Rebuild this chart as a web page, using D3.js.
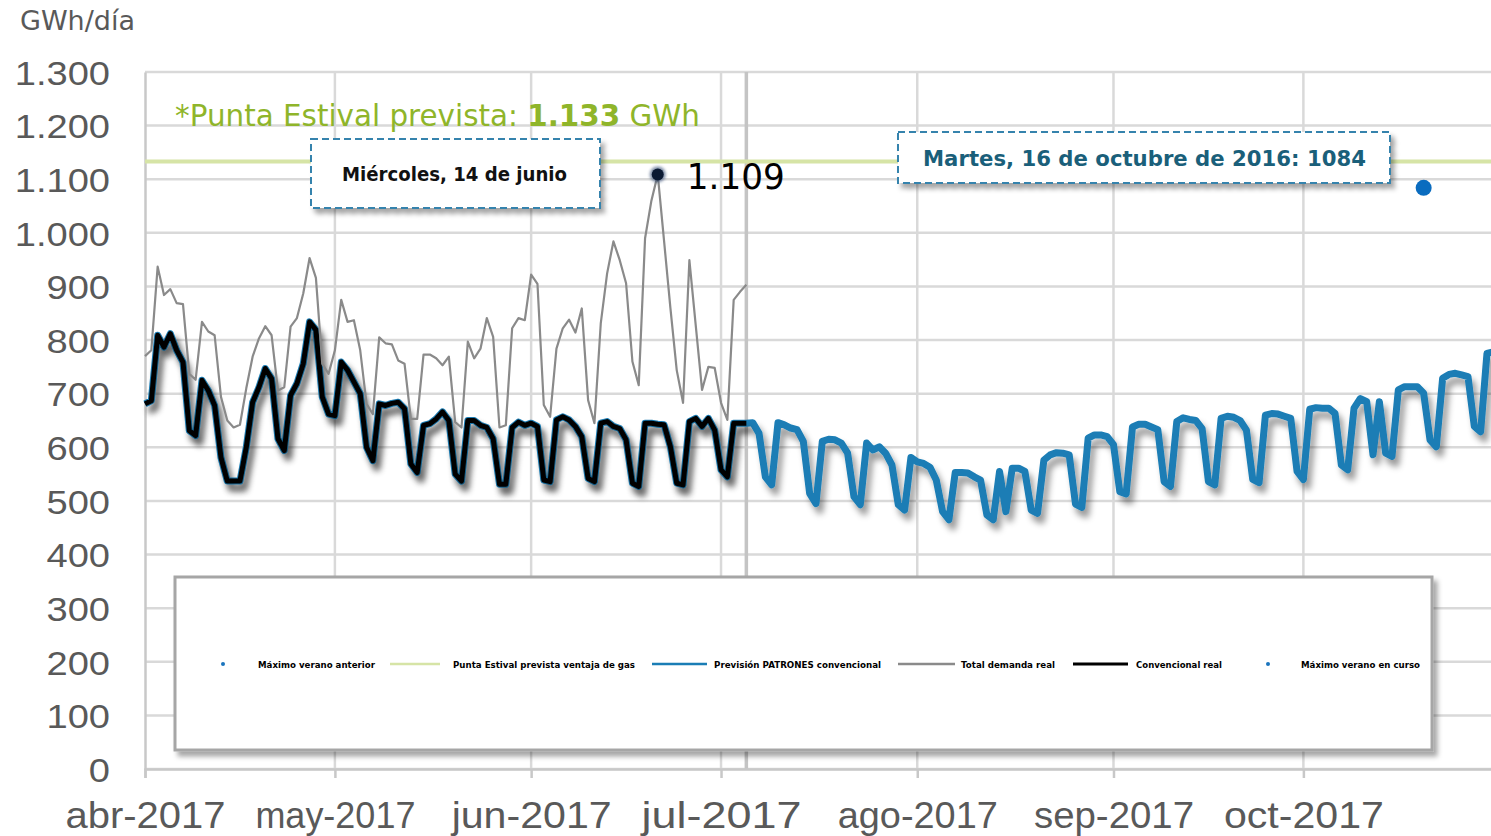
<!DOCTYPE html>
<html><head><meta charset="utf-8">
<script src="https://cdn.jsdelivr.net/npm/d3@7"></script>
<style>
body{margin:0;background:#fff;overflow:hidden}
svg{display:block;font-family:"DejaVu Sans",Verdana,sans-serif}
</style>
</head><body>
<svg id="c" width="1491" height="836"></svg>
<script>
// ---------- DATA ----------
const startDate = "2017-04-01";
const monthStarts = ["2017-04-01","2017-05-01","2017-06-01","2017-07-01","2017-08-01","2017-09-01","2017-10-01"];
const monthLabels = ["abr-2017","may-2017","jun-2017","jul-2017","ago-2017","sep-2017","oct-2017"];
const yTicks = [0,100,200,300,400,500,600,700,800,900,1000,1100,1200,1300];
const yTickLabels = ["0","100","200","300","400","500","600","700","800","900","1.000","1.100","1.200","1.300"];

// Total demanda real (GWh/día), daily from 1-abr-2017
const totalDemand = [
 770,781,937,884,895,869,867,
 737,726,834,816,809,694,650,
 637,642,710,769,803,826,809,
 706,712,825,841,887,953,916,
 756,737,781,875,834,837,781,
 681,662,805,794,792,762,756,
 653,653,773,773,766,753,769,
 647,637,797,766,784,841,806,
 637,641,822,841,837,922,905,
 679,657,784,822,838,814,859,
 688,645,831,924,984,949,906,
 760,716,990,1060,1109,985,860,
 744,683,949,828,707,750,748,
 683,651,875,890,903
];
// Convencional real
const conventionalReal = [
 681,687,809,787,812,781,759,
 631,622,725,706,678,581,537,
 537,537,600,684,712,747,728,
 616,594,697,719,756,834,819,
 694,662,659,759,744,722,700,
 600,575,681,678,682,684,672,
 569,553,641,644,653,666,650,
 550,537,650,650,641,637,616,
 531,531,637,647,641,645,639,
 539,536,651,657,651,639,620,
 542,536,645,648,639,635,614,
 533,527,645,645,643,642,601,
 533,530,648,654,639,654,632,
 558,545,645,645,645
];
// Previsión PATRONES convencional
const forecast = [
 681,687,809,787,812,781,759,
 631,622,725,706,678,581,537,
 537,537,600,684,712,747,728,
 616,594,697,719,756,834,819,
 694,662,659,759,744,722,700,
 600,575,681,678,682,684,672,
 569,553,641,644,653,666,650,
 550,537,650,650,641,637,616,
 531,531,637,647,641,645,639,
 539,536,651,657,651,639,620,
 542,536,645,648,639,635,614,
 533,527,645,645,643,642,601,
 533,530,648,654,639,654,632,
 558,545,645,645,645,646,626,
 545,530,646,642,636,633,611,
 514,495,611,615,614,608,589,
 508,493,608,595,601,589,567,
 493,483,581,573,570,563,539,
 480,465,553,553,552,545,539,
 474,465,555,480,561,561,555,
 483,477,576,586,590,589,586,
 494,488,617,623,623,620,605,
 517,513,638,643,643,638,633,
 536,527,648,655,652,650,635,
 536,530,654,658,656,650,632,
 540,534,660,663,662,658,654,
 555,540,671,674,673,673,663,
 567,558,673,691,685,586,685,
 589,583,707,713,713,713,701,
 614,601,729,736,738,735,732,
 639,629,775,778
];
const puntaPrevista = 1133;
const currentMax = {date:"2017-06-21", value:1109, label:"1.109"};
const previousMax = {date:"2017-10-20", value:1084};
const titleParts = ["*Punta Estival prevista: ", "1.133", " GWh"];
const noteCurrent = "Miércoles, 14 de junio";
const notePrevious = "Martes, 16 de octubre de 2016: 1084";
const todayDate = "2017-07-05";
const legendItems = [
 {kind:"dot",  label:"Máximo verano anterior", color:"#1a74bd"},
 {kind:"line", label:"Punta Estival prevista ventaja de gas", color:"#d6e4a6"},
 {kind:"line", label:"Previsión PATRONES convencional", color:"#1a7db5"},
 {kind:"line", label:"Total demanda real", color:"#8a8a8a"},
 {kind:"line", label:"Convencional real", color:"#000000"},
 {kind:"dot",  label:"Máximo verano en curso", color:"#1a74bd"}
];
// legend layout (pixels)
const legendLayout = [
 {sx:223, tx:258, tw:117},
 {sx1:390, sx2:440, tx:453, tw:182},
 {sx1:652, sx2:707, tx:714, tw:167},
 {sx1:898, sx2:955, tx:961, tw:94},
 {sx1:1073, sx2:1128, tx:1136, tw:86},
 {sx:1268, tx:1301, tw:119}
];

// ---------- CHART ----------
const parse = d3.utcParse("%Y-%m-%d");
const t0 = parse(startDate);
const dayDate = i => d3.utcDay.offset(t0, i);
const svg = d3.select("#c");

const x = d3.scaleUtc().domain([t0, parse("2017-11-01")]).range([145, 145 + 214*6.33]);
const y = d3.scaleLinear().domain([0, 1300]).range([769, 72]);

const defs = svg.append("defs");
const f = defs.append("filter").attr("id","sh").attr("x","-5%").attr("y","-10%").attr("width","112%").attr("height","130%");
f.append("feDropShadow").attr("dx",4).attr("dy",7).attr("stdDeviation",3).attr("flood-color","#000").attr("flood-opacity",0.4);
const fb = defs.append("filter").attr("id","bx").attr("x","-5%").attr("y","-10%").attr("width","115%").attr("height","130%");
fb.append("feDropShadow").attr("dx",4).attr("dy",5).attr("stdDeviation",2.5).attr("flood-color","#000").attr("flood-opacity",0.35);
const fg = defs.append("filter").attr("id","glow").attr("x","-100%").attr("y","-100%").attr("width","300%").attr("height","300%");
fg.append("feGaussianBlur").attr("stdDeviation",1.5);

const W = 1491;
// horizontal gridlines
svg.append("g").selectAll("line").data(yTicks).join("line")
  .attr("x1",145).attr("x2",W).attr("y1",d=>y(d)).attr("y2",d=>y(d))
  .attr("stroke","#d9d9d9").attr("stroke-width",2.5);
// vertical gridlines
const mDates = monthStarts.map(parse);
svg.append("g").selectAll("line").data(mDates.slice(1)).join("line")
  .attr("x1",d=>x(d)).attr("x2",d=>x(d)).attr("y1",y(1300)).attr("y2",y(0))
  .attr("stroke","#d9d9d9").attr("stroke-width",2.5);
// today line
svg.append("line").attr("x1",x(parse(todayDate))).attr("x2",x(parse(todayDate)))
  .attr("y1",y(1300)).attr("y2",y(0)).attr("stroke","#c4c4c4").attr("stroke-width",3.5);

// axes
const yAxis = svg.append("g").attr("transform","translate(145,0)")
  .call(d3.axisLeft(y).tickValues(yTicks).tickFormat((d,i)=>yTickLabels[i]).tickSize(0).tickPadding(35));
yAxis.select(".domain").attr("stroke","#c8c8c8").attr("stroke-width",2.5);
yAxis.selectAll("text").attr("fill","#595959").attr("font-size",34).attr("dy","0.36em")
  .each(function(){ const w = this.getComputedTextLength(); d3.select(this).attr("textLength", w*1.12).attr("lengthAdjust","spacingAndGlyphs"); });

const xAxis = svg.append("g").attr("transform","translate(0,769)")
  .call(d3.axisBottom(x).tickValues(mDates).tickFormat((d,i)=>monthLabels[i]).tickSize(9));
xAxis.select(".domain").attr("stroke","#c8c8c8").attr("stroke-width",2.5);
xAxis.selectAll(".tick line").attr("stroke","#c8c8c8").attr("stroke-width",2.5);
xAxis.selectAll("text").attr("fill","#595959").attr("font-size",37).attr("y",59).attr("dy",0)
  .attr("textLength",160).attr("lengthAdjust","spacingAndGlyphs");

// unit label
svg.append("text").attr("x",20).attr("y",30).attr("fill","#595959").attr("font-size",27).text("GWh/día");

// punta prevista line
svg.append("line").attr("x1",145).attr("x2",W).attr("y1",y(puntaPrevista)).attr("y2",y(puntaPrevista))
  .attr("stroke","#d6e4a6").attr("stroke-width",4);

// title
const tt = svg.append("text").attr("x",175).attr("y",126).attr("fill","#8fb52a").attr("font-size",30)
  .attr("textLength",525).attr("lengthAdjust","spacingAndGlyphs");
tt.append("tspan").text(titleParts[0]);
tt.append("tspan").attr("font-weight","bold").text(titleParts[1]);
tt.append("tspan").text(titleParts[2]);

// lines
const line = d3.line().x((d,i)=>x(dayDate(i))).y(d=>y(d));
svg.append("path").datum(forecast).attr("d",line).attr("fill","none")
  .attr("stroke","#1a7db5").attr("stroke-width",7).attr("stroke-linejoin","round").attr("filter","url(#sh)");
svg.append("path").datum(conventionalReal).attr("d",line).attr("fill","none")
  .attr("stroke","#000").attr("stroke-width",5).attr("stroke-linejoin","round").attr("filter","url(#sh)");
svg.append("path").datum(totalDemand).attr("d",line).attr("fill","none")
  .attr("stroke","#8a8a8a").attr("stroke-width",2.2).attr("stroke-linejoin","round");

// markers
const cx = x(parse(currentMax.date)), cy = y(currentMax.value);
svg.append("circle").attr("cx",cx).attr("cy",cy).attr("r",8).attr("fill","#27416b").attr("opacity",0.6).attr("filter","url(#glow)");
svg.append("circle").attr("cx",cx).attr("cy",cy).attr("r",6).attr("fill","#0b1a33");
svg.append("text").attr("x",cx+29).attr("y",cy+15).attr("font-size",35).attr("fill","#000")
  .attr("textLength",98).attr("lengthAdjust","spacingAndGlyphs").text(currentMax.label);
svg.append("circle").attr("cx",x(parse(previousMax.date))).attr("cy",y(previousMax.value)).attr("r",8).attr("fill","#0a6cbf");

// annotation boxes
svg.append("rect").attr("x",311).attr("y",139).attr("width",289).attr("height",69).attr("fill","#fff")
  .attr("stroke","#3583ad").attr("stroke-width",2).attr("stroke-dasharray","7,4").attr("filter","url(#bx)");
svg.append("text").attr("x",342).attr("y",181).attr("font-size",19).attr("font-weight","bold").attr("fill","#111")
  .attr("textLength",225).attr("lengthAdjust","spacingAndGlyphs").text(noteCurrent);
svg.append("rect").attr("x",898).attr("y",132).attr("width",492).attr("height",51).attr("fill","#fff")
  .attr("stroke","#3583ad").attr("stroke-width",2).attr("stroke-dasharray","7,4").attr("filter","url(#bx)");
svg.append("text").attr("x",923).attr("y",166).attr("font-size",22).attr("font-weight","bold").attr("fill","#1a5f7a")
  .attr("textLength",443).attr("lengthAdjust","spacingAndGlyphs").text(notePrevious);

// legend
svg.append("rect").attr("x",175).attr("y",577).attr("width",1257).attr("height",173).attr("fill","#fff")
  .attr("stroke","#a6a6a6").attr("stroke-width",3).attr("filter","url(#bx)");
const ly = 664;
const lg = svg.append("g");
legendItems.forEach((it,i)=>{
  const L = legendLayout[i];
  if (it.kind === "dot") {
    lg.append("circle").attr("cx",L.sx).attr("cy",ly).attr("r",2).attr("fill",it.color);
  } else {
    lg.append("line").attr("x1",L.sx1).attr("x2",L.sx2).attr("y1",ly).attr("y2",ly)
      .attr("stroke",it.color).attr("stroke-width",it.color==="#000000"?3:2.5);
  }
  lg.append("text").attr("x",L.tx).attr("y",ly+3.5).attr("font-size",9.5).attr("font-weight","bold")
    .attr("fill","#000").attr("textLength",L.tw).attr("lengthAdjust","spacingAndGlyphs").text(it.label);
});
</script>
</body></html>
